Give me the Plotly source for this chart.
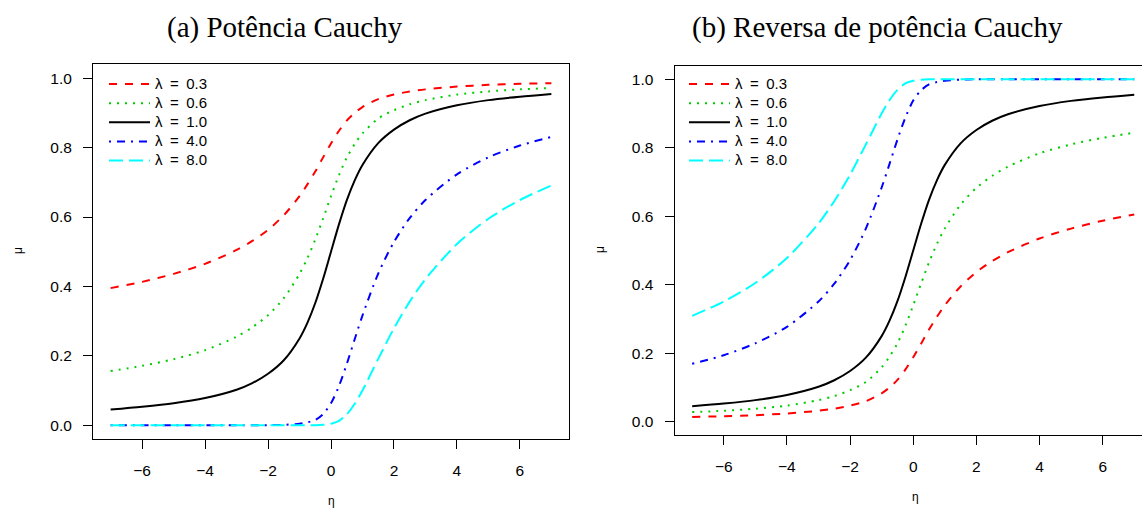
import plotly.graph_objects as go

# linear predictor grid
eta = [-7, -6, -5, -4, -3, -2.5, -2, -1.5, -1, -0.75, -0.5, -0.25, 0,
       0.25, 0.5, 0.75, 1, 1.5, 2, 2.5, 3, 4, 5, 6, 7]

lambdas = ["0.3", "0.6", "1.0", "4.0", "8.0"]

# (a) power Cauchy link: mu for each lambda
pot_03 = [0.395, 0.413, 0.436, 0.465, 0.505, 0.531, 0.563, 0.605, 0.660, 0.694, 0.731, 0.772, 0.812,
          0.848, 0.878, 0.900, 0.917, 0.940, 0.953, 0.962, 0.968, 0.976, 0.981, 0.984, 0.986]
pot_06 = [0.156, 0.171, 0.190, 0.216, 0.255, 0.282, 0.317, 0.366, 0.436, 0.481, 0.535, 0.596, 0.660,
          0.720, 0.771, 0.810, 0.841, 0.884, 0.908, 0.925, 0.937, 0.953, 0.962, 0.968, 0.972]
pot_10 = [0.045, 0.053, 0.063, 0.078, 0.102, 0.121, 0.148, 0.187, 0.250, 0.295, 0.352, 0.422, 0.500,
          0.578, 0.648, 0.705, 0.750, 0.813, 0.852, 0.879, 0.898, 0.922, 0.937, 0.947, 0.955]
pot_40 = [0.000, 0.000, 0.000, 0.000, 0.000, 0.000, 0.000, 0.001, 0.004, 0.008, 0.015, 0.032, 0.063,
          0.112, 0.176, 0.247, 0.316, 0.437, 0.528, 0.597, 0.649, 0.723, 0.772, 0.806, 0.831]
pot_80 = [0.000, 0.000, 0.000, 0.000, 0.000, 0.000, 0.000, 0.000, 0.000, 0.000, 0.000, 0.001, 0.004,
          0.012, 0.031, 0.061, 0.100, 0.191, 0.279, 0.356, 0.421, 0.522, 0.595, 0.649, 0.691]

# (b) reverse power Cauchy link: mu for each lambda
rev_03 = [0.014, 0.016, 0.019, 0.024, 0.032, 0.038, 0.047, 0.060, 0.083, 0.100, 0.122, 0.152, 0.188,
          0.228, 0.269, 0.306, 0.340, 0.395, 0.437, 0.469, 0.495, 0.535, 0.564, 0.587, 0.605]
rev_06 = [0.028, 0.032, 0.038, 0.047, 0.063, 0.075, 0.092, 0.116, 0.159, 0.190, 0.229, 0.280, 0.340,
          0.404, 0.465, 0.519, 0.564, 0.634, 0.683, 0.718, 0.745, 0.784, 0.810, 0.829, 0.844]
rev_10 = [0.045, 0.053, 0.063, 0.078, 0.102, 0.121, 0.148, 0.187, 0.250, 0.295, 0.352, 0.422, 0.500,
          0.578, 0.648, 0.705, 0.750, 0.813, 0.852, 0.879, 0.898, 0.922, 0.937, 0.947, 0.955]
rev_40 = [0.169, 0.194, 0.229, 0.277, 0.351, 0.403, 0.472, 0.564, 0.684, 0.753, 0.824, 0.888, 0.938,
          0.968, 0.985, 0.992, 0.996, 0.999, 1.000, 1.000, 1.000, 1.000, 1.000, 1.000, 1.000]
rev_80 = [0.309, 0.351, 0.405, 0.478, 0.579, 0.644, 0.721, 0.810, 0.900, 0.939, 0.969, 0.988, 0.996,
          0.999, 1.000, 1.000, 1.000, 1.000, 1.000, 1.000, 1.000, 1.000, 1.000, 1.000, 1.000]

x_ticks = [-6, -4, -2, 0, 2, 4, 6]
y_ticks = [0.0, 0.2, 0.4, 0.6, 0.8, 1.0]

colors = ["#FF0000", "#00CD00", "#000000", "#0000FF", "#00FFFF"]
dashes = ["8px,8px", "2px,6px", "solid", "2px,6px,8px,6px", "14px,6px"]

W, H = 1142, 508
SANS = "Liberation Sans, Arial, sans-serif"
SERIF = "Liberation Serif, Times New Roman, serif"

fig = go.Figure()

panels = [
    ([pot_03, pot_06, pot_10, pot_40, pot_80], "x", "y", "legend"),
    ([rev_03, rev_06, rev_10, rev_40, rev_80], "x2", "y2", "legend2"),
]
for series, xa, ya, leg in panels:
    for lam, mu, col, dash in zip(lambdas, series, colors, dashes):
        fig.add_trace(go.Scatter(
            x=eta, y=mu, mode="lines", xaxis=xa, yaxis=ya, legend=leg,
            name=f"<span style='font-size:15px'>λ\u2002=\u2002{lam}</span>",
            line=dict(color=col, width=2, dash=dash, shape="spline", smoothing=0.8),
        ))

axis_common = dict(
    showgrid=False, zeroline=False, showline=True, linecolor="black", linewidth=1,
    ticks="outside", ticklen=9, tickwidth=1, tickcolor="black",
    tickfont=dict(family=SANS, size=15.5, color="black"),
)

legend_common = dict(
    xanchor="left", yanchor="top", bgcolor="rgba(0,0,0,0)", borderwidth=0,
    font=dict(family=SANS, size=12.4, color="black"), tracegroupgap=0, itemwidth=41,
)

fig.update_layout(
    width=W, height=H, autosize=False,
    margin=dict(l=0, r=0, t=0, b=0, pad=0),
    paper_bgcolor="white", plot_bgcolor="white",
    showlegend=True,
    xaxis=dict(domain=[93 / W, 569 / W], range=[-7.56, 7.56], anchor="y",
               tickvals=x_ticks, mirror=True, ticklabelstandoff=8, **axis_common),
    yaxis=dict(domain=[69 / H, 443.6 / H], range=[-0.04, 1.04], anchor="x",
               tickvals=y_ticks, tickformat=".1f", mirror=True, ticklabelstandoff=8,
               **axis_common),
    xaxis2=dict(domain=[674.5 / W, 1.0], range=[-7.56, 7.245], anchor="y2",
                tickvals=x_ticks, mirror=True, ticklabelstandoff=8, **axis_common),
    yaxis2=dict(domain=[72.6 / H, 442.4 / H], range=[-0.04, 1.04], anchor="x2",
                tickvals=y_ticks, tickformat=".1f", mirror=False, ticklabelstandoff=8,
                **axis_common),
    legend=dict(x=104 / W, y=1 - 69.5 / H, **legend_common),
    legend2=dict(x=684 / W, y=1 - 69.5 / H, **legend_common),
)

annotations = [
    dict(text="(a) Potência Cauchy", x=285 / W, y=1 - 27 / H,
         font=dict(family=SERIF, size=29, color="black")),
    dict(text="(b) Reversa de potência Cauchy", x=877 / W, y=1 - 27 / H,
         font=dict(family=SERIF, size=29, color="black")),
    dict(text="μ", x=18 / W, y=1 - 251 / H, textangle=-90,
         font=dict(family=SANS, size=12, color="black")),
    dict(text="μ", x=600 / W, y=1 - 250 / H, textangle=-90,
         font=dict(family=SANS, size=12, color="black")),
    dict(text="η", x=331 / W, y=1 - 501 / H,
         font=dict(family=SANS, size=12, color="black")),
    dict(text="η", x=915 / W, y=1 - 497 / H,
         font=dict(family=SANS, size=12, color="black")),
]
for a in annotations:
    a.update(xref="paper", yref="paper", showarrow=False, xanchor="center", yanchor="middle")
fig.update_layout(annotations=annotations)

fig.write_html("out.html")
